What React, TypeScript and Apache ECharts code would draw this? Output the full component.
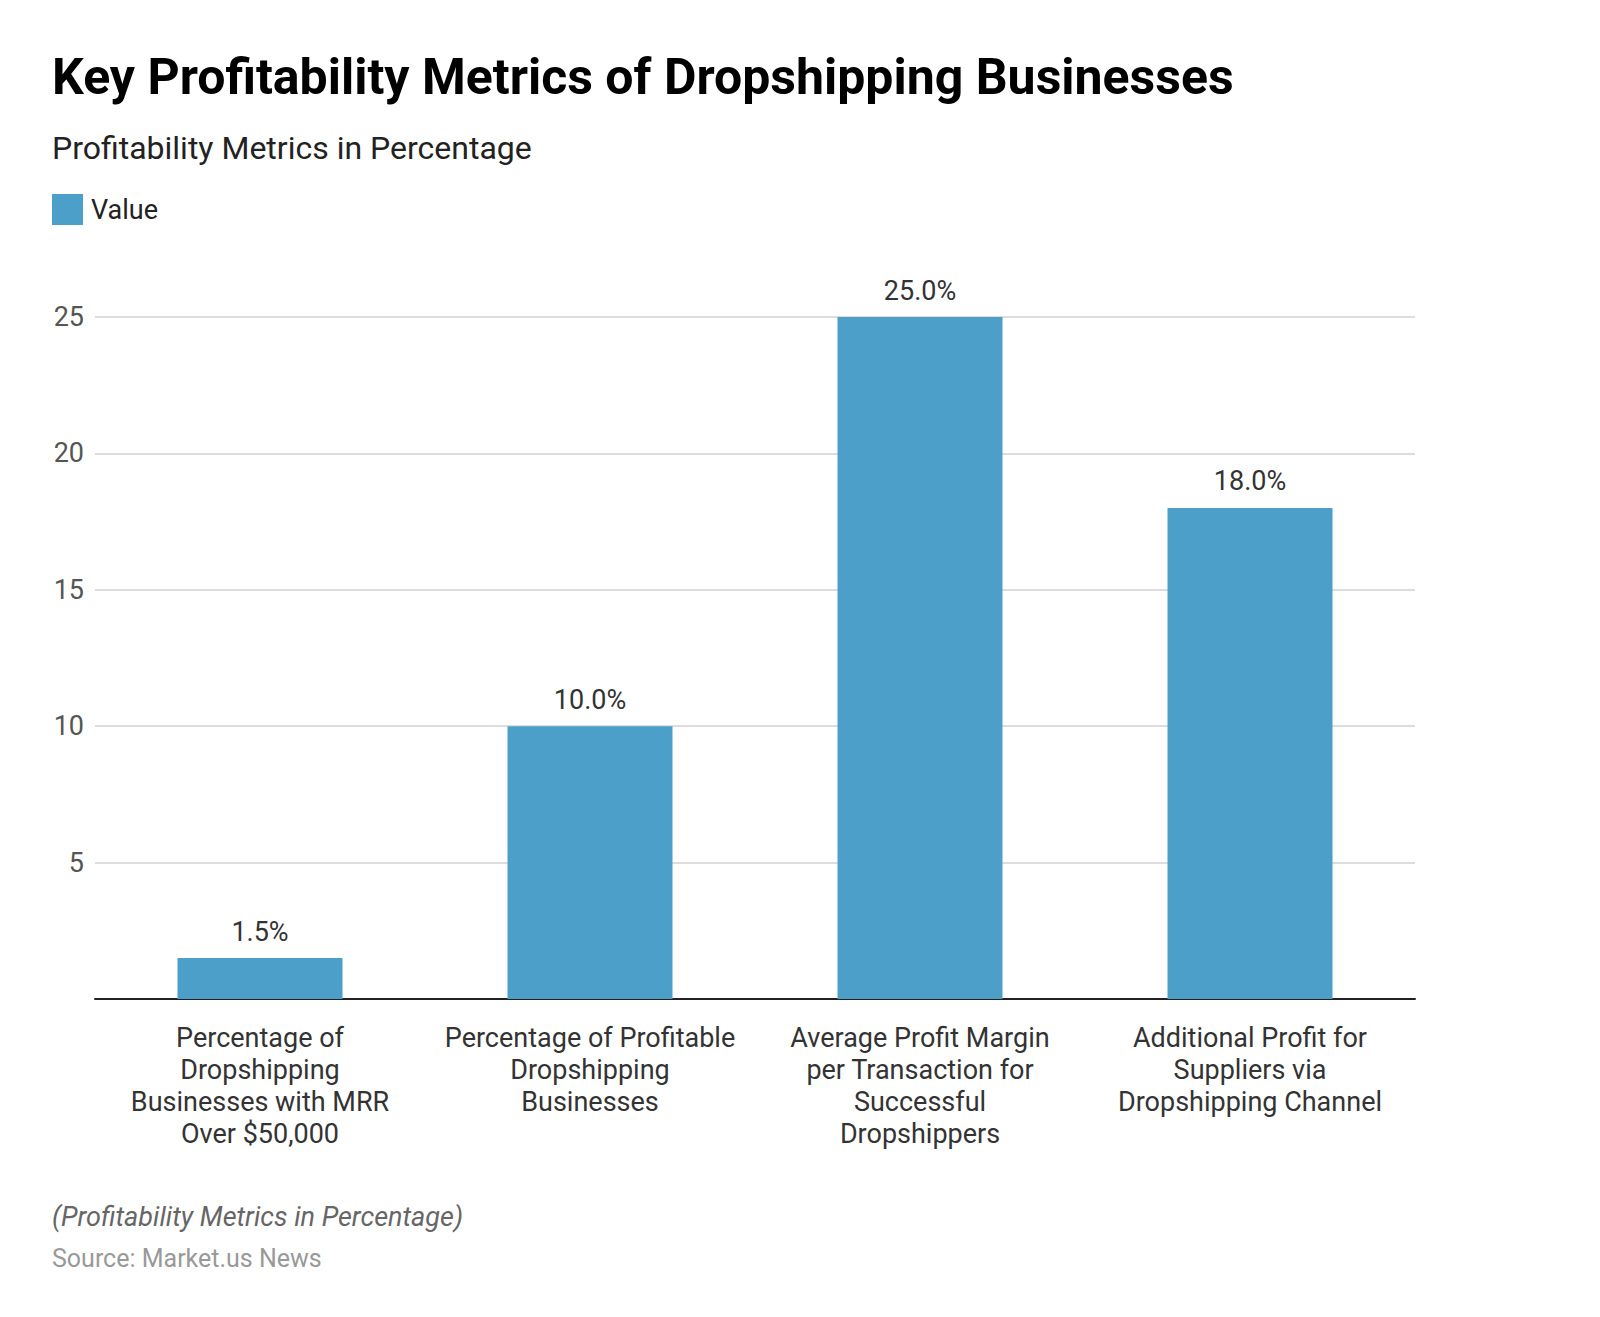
import React, { useEffect, useRef } from "react";
import * as echarts from "echarts";

const categories = [
  "Percentage of\nDropshipping\nBusinesses with MRR\nOver $50,000",
  "Percentage of Profitable\nDropshipping\nBusinesses",
  "Average Profit Margin\nper Transaction for\nSuccessful\nDropshippers",
  "Additional Profit for\nSuppliers via\nDropshipping Channel",
];
const values = [1.5, 10.0, 25.0, 18.0];
const yTicks = [0, 5, 10, 15, 20, 25];

const titleText = "Key Profitability Metrics of Dropshipping Businesses";
const subtitleText = "Profitability Metrics in Percentage";
const noteText = "(Profitability Metrics in Percentage)";
const sourceText = "Source: Market.us News";
const seriesName = "Value";

const FONT = "Roboto, 'Noto Sans', sans-serif";

export default function App() {
  const ref = useRef<HTMLDivElement>(null);
  useEffect(() => {
    if (!ref.current) return;
    const chart = echarts.init(ref.current, null, { renderer: "svg" });
    chart.setOption({
      animation: false,
      backgroundColor: "#ffffff",
      textStyle: { fontFamily: FONT },
      title: [
        {
          text: titleText,
          left: 52,
          top: 52,
          padding: 0,
          textStyle: { fontFamily: FONT, fontSize: 50, fontWeight: "bold", color: "#000000" },
        },
        {
          text: subtitleText,
          left: 52,
          top: 132,
          padding: 0,
          textStyle: { fontFamily: FONT, fontSize: 32, fontWeight: "normal", color: "#222222" },
        },
        {
          text: noteText,
          left: 52,
          top: 1203,
          padding: 0,
          textStyle: { fontFamily: FONT, fontSize: 27, fontStyle: "italic", fontWeight: "normal", color: "#666666" },
        },
        {
          text: sourceText,
          left: 52,
          top: 1246,
          padding: 0,
          textStyle: { fontFamily: FONT, fontSize: 25, fontWeight: "normal", color: "#999999" },
        },
      ],
      legend: {
        data: [seriesName],
        left: 52,
        top: 194,
        padding: 0,
        itemWidth: 31,
        itemHeight: 31,
        itemGap: 8,
        icon: "rect",
        textStyle: { fontFamily: FONT, fontSize: 27, color: "#222222", padding: [0, 0, 2, 3] },
      },
      grid: { left: 95, right: 185, top: 317, bottom: 318, containLabel: false },
      xAxis: {
        type: "category",
        data: categories,
        axisLine: { lineStyle: { color: "#222222", width: 2 } },
        axisTick: { alignWithLabel: true, length: 8, lineStyle: { color: "#222222", width: 2 } },
        axisLabel: {
          interval: 0,
          margin: 23,
          fontFamily: FONT,
          fontSize: 27,
          lineHeight: 32,
          color: "#333333",
          align: "center",
        },
      },
      yAxis: {
        type: "value",
        min: yTicks[0],
        max: yTicks[yTicks.length - 1],
        interval: 5,
        axisLine: { show: false },
        axisTick: { show: false },
        splitLine: { lineStyle: { color: "#dddddd", width: 2 } },
        axisLabel: {
          margin: 11,
          fontFamily: FONT,
          fontSize: 27,
          color: "#555555",
          formatter: (v: number) => (v === 0 ? "" : String(v)),
        },
      },
      series: [
        {
          name: seriesName,
          type: "bar",
          data: values,
          barWidth: "50%",
          itemStyle: { color: "#4b9fc9" },
          label: {
            show: true,
            position: "top",
            distance: 13,
            fontFamily: FONT,
            fontSize: 27,
            color: "#333333",
            formatter: (p: any) => `${Number(p.value).toFixed(1)}%`,
          },
        },
      ],
    });
    return () => chart.dispose();
  }, []);
  return (
    <div
      ref={ref}
      style={{ position: "absolute", left: 0, top: 0, width: 1600, height: 1317, background: "#fff" }}
    />
  );
}
